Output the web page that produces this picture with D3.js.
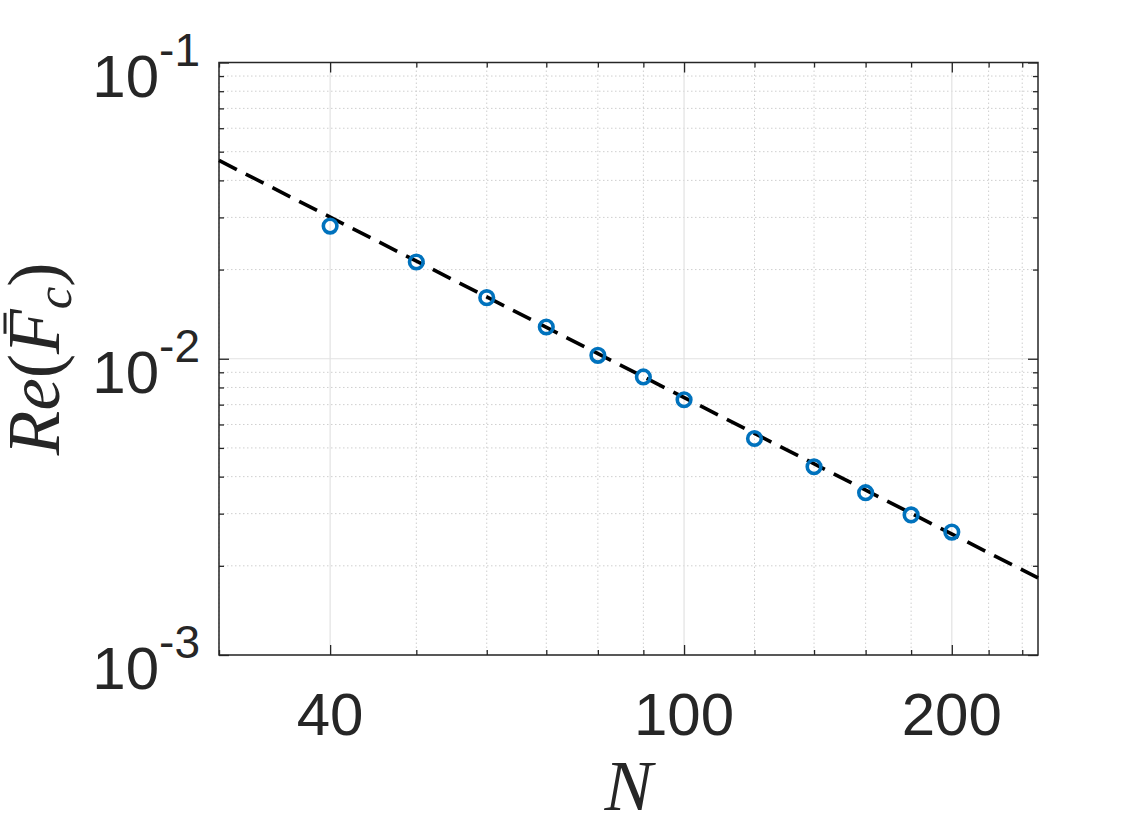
<!DOCTYPE html>
<html>
<head>
<meta charset="utf-8">
<script src="https://cdn.jsdelivr.net/npm/d3@7"></script>
<style>
  body { margin: 0; background: #fff; }
  svg { display: block; }
</style>
</head>
<body>
<svg width="1146" height="834"></svg>
<script>
// Data.
const nVals = [40, 50, 60, 70, 80, 90, 100, 120, 140, 160, 180, 200];
const reF = [0.02805, 0.02121, 0.01608, 0.01280, 0.01027, 0.00868, 0.00727, 0.00538, 0.00432, 0.00353, 0.00297, 0.00260];

// Dashed fit line end points.
const fitN = [30, 250];
const fitY = [0.0467, 0.00182];

// Ticks.
const xMajor = [40, 100, 200];
const xMinor = [30, 50, 60, 70, 80, 90, 120, 140, 160, 180, 220, 240];
const yMajor = [1e-3, 1e-2, 1e-1];
const yExp = ["-3", "-2", "-1"];
const yMinor = [];
[1e-3, 1e-2].forEach(d => { for (let k = 2; k <= 9; k++) yMinor.push(k * d); });

// Graphical parameters.
let svg = d3.select("svg");
let pLeft = 219, pRight = 1038, pTop = 62.5, pBottom = 655;
let axisCol = "#262626";
let font = "'Liberation Sans', Arial, Helvetica, sans-serif";
let serif = "'Liberation Serif', 'Times New Roman', serif";

let x = d3.scaleLog().domain([30, 250]).range([pLeft, pRight]);
let y = d3.scaleLog().domain([1e-3, 1e-1]).range([pBottom, pTop]);

// Grid: minor dotted first, then major solid.
let grid = svg.append("g");
grid.selectAll(".vmin").data(xMinor).join("line")
    .attr("x1", d => x(d)).attr("x2", d => x(d))
    .attr("y1", pTop).attr("y2", pBottom)
    .attr("stroke", "#cfcfcf").attr("stroke-width", 1)
    .attr("stroke-dasharray", "1.5,2.5");
grid.selectAll(".hmin").data(yMinor).join("line")
    .attr("x1", pLeft).attr("x2", pRight)
    .attr("y1", d => y(d)).attr("y2", d => y(d))
    .attr("stroke", "#cfcfcf").attr("stroke-width", 1)
    .attr("stroke-dasharray", "1.5,2.5");
grid.selectAll(".vmaj").data(xMajor).join("line")
    .attr("x1", d => x(d)).attr("x2", d => x(d))
    .attr("y1", pTop).attr("y2", pBottom)
    .attr("stroke", "#e2e2e2").attr("stroke-width", 1.2);
grid.selectAll(".hmaj").data(yMajor).join("line")
    .attr("x1", pLeft).attr("x2", pRight)
    .attr("y1", d => y(d)).attr("y2", d => y(d))
    .attr("stroke", "#e2e2e2").attr("stroke-width", 1.2);

// Axes with inward ticks on all four sides.
let addAxis = function (axis, tx, ty) {
    let g = svg.append("g").attr("transform", `translate(${tx},${ty})`).call(axis);
    g.select(".domain").remove();
    g.selectAll("line").attr("stroke", axisCol).attr("stroke-width", 1.3);
    g.selectAll("text").remove();
    return g;
};
addAxis(d3.axisBottom(x).tickValues(xMajor).tickSize(-10), 0, pBottom);
addAxis(d3.axisBottom(x).tickValues(xMinor).tickSize(-5), 0, pBottom);
addAxis(d3.axisTop(x).tickValues(xMajor).tickSize(-10), 0, pTop);
addAxis(d3.axisTop(x).tickValues(xMinor).tickSize(-5), 0, pTop);
addAxis(d3.axisLeft(y).tickValues(yMajor).tickSize(-10), pLeft, 0);
addAxis(d3.axisLeft(y).tickValues(yMinor).tickSize(-5), pLeft, 0);
addAxis(d3.axisRight(y).tickValues(yMajor).tickSize(-10), pRight, 0);
addAxis(d3.axisRight(y).tickValues(yMinor).tickSize(-5), pRight, 0);

// Box.
svg.append("rect")
    .attr("x", pLeft).attr("y", pTop)
    .attr("width", pRight - pLeft).attr("height", pBottom - pTop)
    .attr("fill", "none").attr("stroke", axisCol).attr("stroke-width", 1.5);

// Fit line.
let fit = fitN.map((n, i) => [n, fitY[i]]);
svg.append("path")
    .datum(fit)
    .attr("d", d3.line().x(d => x(d[0])).y(d => y(d[1])))
    .attr("fill", "none").attr("stroke", "#000")
    .attr("stroke-width", 3.6).attr("stroke-dasharray", "20,10");

// Markers.
svg.selectAll(".pt").data(nVals).join("circle")
    .attr("cx", d => x(d)).attr("cy", (d, i) => y(reF[i]))
    .attr("r", 6.8).attr("fill", "none")
    .attr("stroke", "#0072BD").attr("stroke-width", 3.6);

// X tick labels.
svg.selectAll(".xl").data(xMajor).join("text")
    .attr("x", d => x(d)).attr("y", 735)
    .attr("text-anchor", "middle")
    .attr("font-family", font).attr("font-size", 60)
    .attr("fill", axisCol)
    .text(d => d);

// Y tick labels 10^k.
yMajor.forEach((d, i) => {
    let t = svg.append("text")
        .attr("x", 200).attr("y", y(d) + 34)
        .attr("text-anchor", "end")
        .attr("font-family", font).attr("fill", axisCol);
    t.append("tspan").attr("font-size", 60).text("10");
    t.append("tspan").attr("font-size", 46).attr("dy", -31).text(yExp[i]);
});

// X label.
svg.append("text")
    .attr("x", (pLeft + pRight) / 2).attr("y", 810)
    .attr("text-anchor", "middle")
    .attr("font-family", serif).attr("font-style", "italic")
    .attr("font-size", 72).attr("fill", axisCol)
    .text("N");

// Y label Re(F̄_c), rotated.
let yl = svg.append("g").attr("transform", `translate(59,${(pTop + pBottom) / 2}) rotate(-90)`);
let ylt = yl.append("text")
    .attr("text-anchor", "middle")
    .attr("font-family", serif).attr("font-size", 73).attr("fill", axisCol);
ylt.append("tspan").attr("font-style", "italic").text("Re");
ylt.append("tspan").text("(");
ylt.append("tspan").attr("font-style", "italic").text("F");
ylt.append("tspan").attr("font-style", "italic").attr("font-size", 51).attr("dy", 12).text("c");
ylt.append("tspan").attr("dy", -12).text(")");
// Bar over F, placed from the baseline.
let ext = ylt.node().getExtentOfChar(3);
yl.append("line")
    .attr("x1", ext.x + ext.width * 0.45).attr("x2", ext.x + ext.width * 0.92)
    .attr("y1", -54).attr("y2", -54)
    .attr("stroke", axisCol).attr("stroke-width", 3);
</script>
</body>
</html>
